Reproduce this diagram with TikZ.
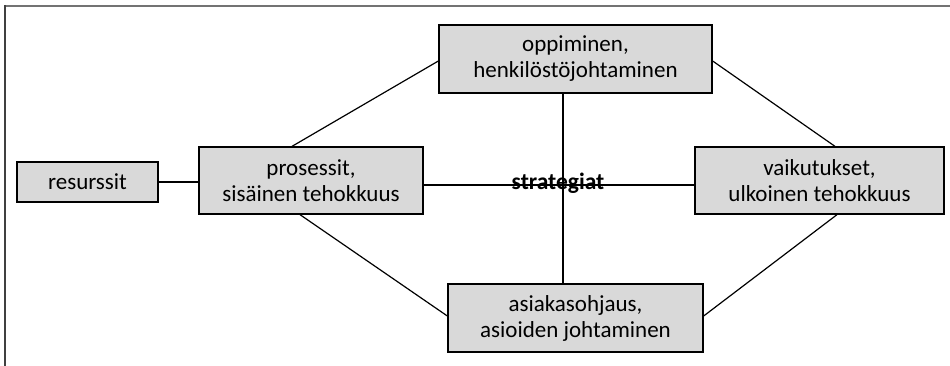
\documentclass[tikz,border=0pt]{standalone}
\usepackage{fontspec}
\setmainfont{Carlito}
\begin{document}
\begin{tikzpicture}[x=1pt,y=-1pt,
  box/.style={draw=black,line width=1.3pt,fill=black!15,rectangle,align=center,inner sep=0pt,
    font=\fontsize{23}{26}\selectfont},
  conn/.style={draw=black,line width=1.2pt}]
\useasboundingbox (0,0) rectangle (950,366);
\draw[line width=2pt,black!55] (4,6) -- (950,6);
\draw[line width=2pt,black!75] (5,5) -- (5,366);
\node[box,minimum width=141pt,minimum height=40pt] (res) at (87.5,182) {resurssit};
\node[box,minimum width=224pt,minimum height=67pt] (pro) at (311,180.5) {prosessit,\\sisäinen tehokkuus};
\node[box,minimum width=249pt,minimum height=67pt] (vai) at (819.5,180.5) {vaikutukset,\\ulkoinen tehokkuus};
\node[box,minimum width=273pt,minimum height=68pt] (opp) at (575.5,59) {oppiminen,\\henkilöstöjohtaminen};
\node[box,minimum width=255pt,minimum height=68pt] (asi) at (575.5,318) {asiakasohjaus,\\asioiden johtaminen};
\coordinate (c) at (563,185);
\draw[conn] (res.east) -- (res.east -| pro.west);
\draw[conn] (pro.east |- c) -- (vai.west |- c);
\draw[conn] (opp.south -| c) -- (asi.north -| c);
\draw[conn] ([xshift=-19pt]pro.north) -- ([yshift=-2pt]opp.west);
\draw[conn] ([xshift=-11pt]pro.south) -- ([yshift=2pt]asi.west);
\draw[conn] ([yshift=-2pt]opp.east) -- ([xshift=15.5pt]vai.north);
\draw[conn] ([xshift=17.5pt]vai.south) -- ([yshift=2pt]asi.east);
\node[font=\fontsize{23.5}{26}\selectfont\bfseries,inner sep=0pt] (str) at (558,183) {strategiat};
\end{tikzpicture}
\end{document}
